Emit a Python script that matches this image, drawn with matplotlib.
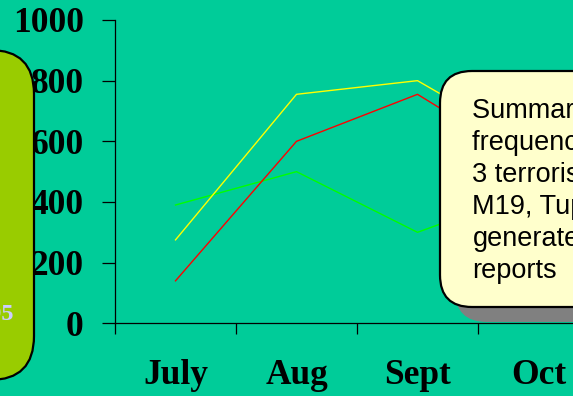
import matplotlib
matplotlib.use("Agg")
import matplotlib.pyplot as plt
from matplotlib.patches import FancyBboxPatch

# Monthly report counts for three groups
months = ["July", "Aug", "Sept", "Oct"]
group_yellow = [275, 755, 800, 570]
group_red = [140, 600, 755, 510]
group_green = [390, 500, 300, 445]
y_ticks = [0, 200, 400, 600, 800, 1000]

callout_lines = ["Summary of", "frequency of", "3 terrorist", "M19, Tupac",
                 "generated", "reports"]
side_label = "1995"

BG = "#00CC99"
W, H = 573, 396
fig = plt.figure(figsize=(W / 100, H / 100), dpi=100, facecolor=BG)

# Chart axes (right side runs past the slide edge)
ax = fig.add_axes([115 / W, (H - 323.3) / H, 484 / W, 303.3 / H])
ax.set_facecolor(BG)
ax.patch.set_alpha(0)
x = [i + 0.5 for i in range(len(months))]
ax.plot(x, group_green, color="#00FF00", lw=1.0, zorder=2)
ax.plot(x, group_yellow, color="#FFFF00", lw=1.0, zorder=2)
ax.plot(x, group_red, color="#FF0000", lw=1.0, zorder=2)
ax.set_xlim(0, len(months))
ax.set_ylim(0, 1000)
for s in ["top", "right"]:
    ax.spines[s].set_visible(False)
for s in ["left", "bottom"]:
    ax.spines[s].set_linewidth(0.9)
    ax.spines[s].set_color("black")

tick_font = dict(family="Liberation Serif", weight="bold", size=25.5)
ax.set_yticks(y_ticks)
ax.set_yticklabels([str(v) for v in y_ticks], fontdict=tick_font)
ax.tick_params(axis="y", direction="out", length=9.5, width=0.9, pad=13)
ax.set_xticks(range(len(months) + 1))
ax.set_xticklabels([])
ax.tick_params(axis="x", which="major", direction="out", length=8, width=0.9)
ax.set_xticks(x, minor=True)
ax.set_xticklabels(months, minor=True, fontdict=tick_font)
ax.tick_params(axis="x", which="minor", length=0, pad=26)

# Overlay in pixel units for the callout boxes
ov = fig.add_axes([0, 0, 1, 1], zorder=5)
ov.set_xlim(0, W)
ov.set_ylim(H, 0)
ov.axis("off")
ov.patch.set_alpha(0)

# Left rounded panel
ov.add_patch(FancyBboxPatch((-150, 50), 184, 330,
                            boxstyle="round,pad=0,rounding_size=44",
                            facecolor="#99CC00", edgecolor="black", lw=1.6))
ov.text(13.5, 320.5, side_label, color="#CCCCFF", ha="right", va="baseline",
        family="Liberation Serif", weight="bold", size=17.5)

# Right callout with drop shadow
ov.add_patch(FancyBboxPatch((455, 86), 300, 236,
                            boxstyle="round,pad=0,rounding_size=32",
                            facecolor="#808080", edgecolor="none"))
ov.add_patch(FancyBboxPatch((440, 71), 300, 236,
                            boxstyle="round,pad=0,rounding_size=32",
                            facecolor="#FFFFCC", edgecolor="black", lw=1.6))
for i, line in enumerate(callout_lines):
    ov.text(472.5, 118.3 + i * 32.0, line, color="black", ha="left",
            va="baseline", family="Liberation Sans", size=19.5)

fig.savefig("out.png", dpi=100, facecolor=BG)
